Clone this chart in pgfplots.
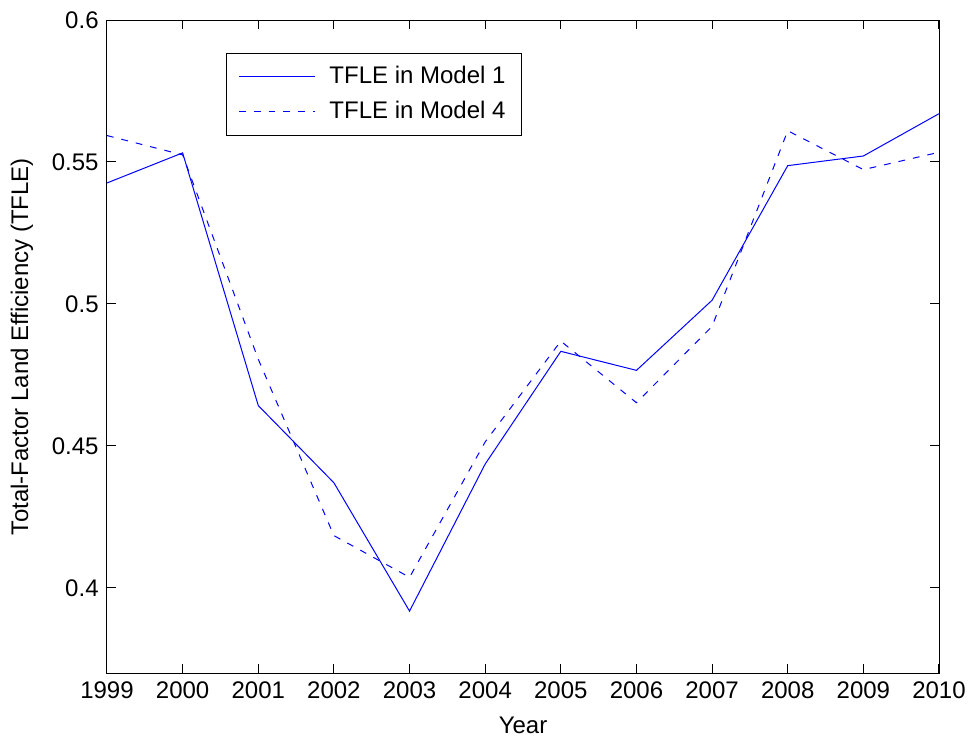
\documentclass[border=0pt]{standalone}
\usepackage{fontspec}
\setmainfont{Liberation Sans}
\usepackage{pgfplots}
\pgfplotsset{compat=1.18}
\begin{document}
\fontsize{12}{14}\selectfont
\begin{tikzpicture}
\begin{axis}[
  scale only axis,
  width=416pt, height=326.5pt,
  xmin=1999, xmax=2010,
  ymin=0.37, ymax=0.6,
  xtick={1999,2000,...,2010},
  ytick={0.4,0.45,0.5,0.55,0.6},
  tick align=inside,
  major tick length=4.5pt,
  xtick pos=both, ytick pos=both,
  /pgf/number format/1000 sep={},
  /pgf/number format/assume math mode=true,
  tick label style={font=\fontsize{12}{14}\selectfont},
  label style={font=\fontsize{12}{14}\selectfont},
  xlabel={Year},
  ylabel={Total-Factor Land Efficiency (TFLE)},
  xlabel style={at={(axis description cs:0.5,-0.0796)}, anchor=center},
  ylabel style={at={(axis description cs:-0.1022,0.5)}, anchor=center},
  axis line style={black, line width=0.5pt},
  every tick/.style={black, line width=0.5pt},
  legend style={at={(0.143,0.9495)}, anchor=north west, draw=black, line width=0.5pt,
    font=\fontsize{12}{14}\selectfont, inner xsep=6pt, inner ysep=4.5pt, row sep=3pt,
    cells={anchor=west}},
  legend image code/.code={\draw[#1] (0pt,0pt) -- (38pt,0pt); \path (43pt,0pt);},
  legend cell align=left,
]
\addplot[draw=blue, line width=0.5pt] coordinates {
(1999,0.5426) (2000,0.5532) (2001,0.4642) (2002,0.4370) (2003,0.3918)
(2004,0.4436) (2005,0.4833) (2006,0.4766) (2007,0.5013) (2008,0.5487)
(2009,0.5521) (2010,0.5670)};
\addlegendentry{TFLE in Model 1}
\addplot[draw=blue, line width=0.5pt, dash pattern=on 3.4pt off 4pt] coordinates {
(1999,0.5593) (2000,0.5525) (2001,0.4805) (2002,0.4184) (2003,0.4037)
(2004,0.4514) (2005,0.4869) (2006,0.4652) (2007,0.4921) (2008,0.5610)
(2009,0.5473) (2010,0.5534)};
\addlegendentry{TFLE in Model 4}
\coordinate (bl) at (rel axis cs:0,0);
\coordinate (tr) at (rel axis cs:1,1);
\end{axis}
\pgfresetboundingbox
\path ([shift={(-53.5pt,-33.5pt)}]bl) rectangle ([shift={(15.5pt,10pt)}]tr);
\end{tikzpicture}
\end{document}
